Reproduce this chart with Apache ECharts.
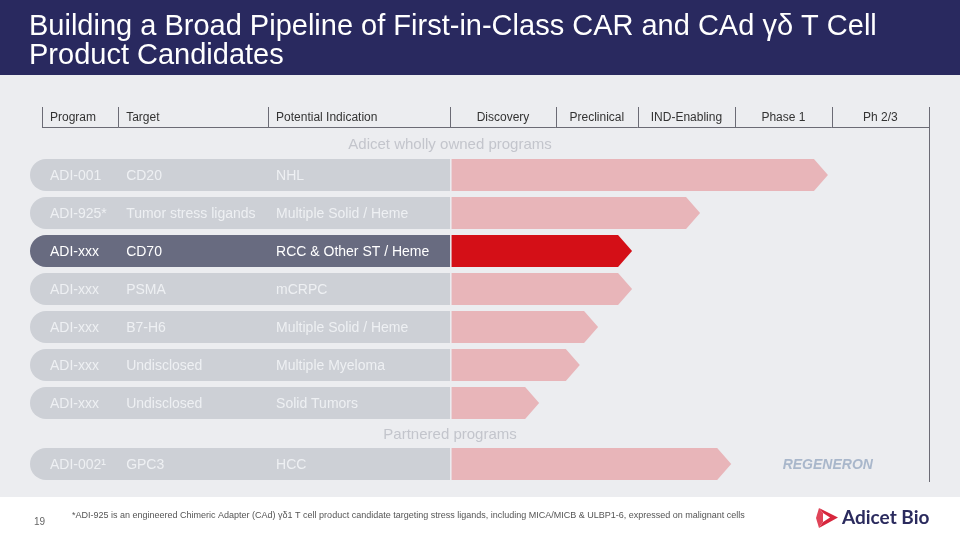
<!DOCTYPE html>
<html><head><meta charset="utf-8">
<script src="https://cdn.jsdelivr.net/npm/echarts@6/dist/echarts.min.js"></script>
<style>html,body{margin:0;padding:0;background:#ecedf0}#c{width:960px;height:540px}</style>
</head><body><div id="c"></div>
<script>
// ---- data ----
const titleText = 'Building a Broad Pipeline of First-in-Class CAR and CAd γδ T Cell\nProduct Candidates';
const headerLabels = ['Program', 'Target', 'Potential Indication', 'Discovery', 'Preclinical', 'IND-Enabling', 'Phase 1', 'Ph 2/3'];
const headerStarts = [-85.2, -69.3, -38.0, 0, 22.1, 39.2, 59.5, 79.7];
const headerEnd = 100;
const sectionLabels = ['Adicet wholly owned programs', 'Partnered programs'];
const programs = ['ADI-001', 'ADI-925*', 'ADI-xxx', 'ADI-xxx', 'ADI-xxx', 'ADI-xxx', 'ADI-xxx'];
const targets = ['CD20', 'Tumor stress ligands', 'CD70', 'PSMA', 'B7-H6', 'Undisclosed', 'Undisclosed'];
const indications = ['NHL', 'Multiple Solid / Heme', 'RCC & Other ST / Heme', 'mCRPC', 'Multiple Solid / Heme', 'Multiple Myeloma', 'Solid Tumors'];
const progress = [78.9, 52.2, 38.0, 38.0, 30.9, 27.1, 18.6];
const highlightRow = 2;
const partnerPrograms = ['ADI-002¹'];
const partnerTargets = ['GPC3'];
const partnerIndications = ['HCC'];
const partnerProgress = [58.7];
const partnerNames = ['REGENERON'];
const footnote = '*ADI-925 is an engineered Chimeric Adapter (CAd) γδ1 T cell product candidate targeting stress ligands, including MICA/MICB & ULBP1-6, expressed on malignant cells';
const pageNumber = '19';

// ---- chart ----
const FONT = '"Liberation Sans", Arial, sans-serif';
const XMIN = -87.7, XMAX = 100;
const chart = echarts.init(document.getElementById('c'), null, {renderer: 'canvas'});

function rowRenderer(progArr, tgtArr, indArr, hiIdx, partnerArr) {
  return function (params, api) {
    const i = api.value(0);
    const c0 = api.coord([XMIN, i]);
    const cz = api.coord([0, i]);
    const ce = api.coord([api.value(1), i]);
    const h = 32;
    const yTop = c0[1] - h / 2;
    const hi = i === hiIdx;
    const tip = 14;
    const txt = hi ? '#ffffff' : '#eef0f3';
    const children = [
      {type: 'rect', shape: {x: c0[0], y: yTop, width: cz[0] - c0[0], height: h, r: [h / 2, 0, 0, h / 2]},
        style: {fill: hi ? '#686b80' : '#cdd0d6'}},
      {type: 'polygon', shape: {points: [[cz[0] + 1.5, yTop], [ce[0] - tip, yTop], [ce[0], c0[1]], [ce[0] - tip, yTop + h], [cz[0] + 1.5, yTop + h]]},
        style: {fill: hi ? '#d40f17' : '#e8b5b9'}}
    ];
    const texts = [progArr[i], tgtArr[i], indArr[i]];
    for (let k = 0; k < 3; k++) {
      const p = api.coord([headerStarts[k], i]);
      children.push({type: 'text', x: p[0] + 8, y: c0[1] + 1,
        style: {text: texts[k], fill: txt, fontSize: 14, fontFamily: FONT, align: 'left', verticalAlign: 'middle'}});
    }
    if (partnerArr) {
      const b = api.coord([headerStarts[7], i]);
      children.push({type: 'text', x: b[0] - 4, y: c0[1] + 1,
        style: {text: partnerArr[i], fill: '#a9b7cb', fontSize: 14, fontWeight: 'bold', fontStyle: 'italic', fontFamily: FONT, align: 'center', verticalAlign: 'middle'}});
    }
    return {type: 'group', children};
  };
}

function headerRenderer(params, api) {
  const s = api.value(1), e = api.value(2), k = api.value(3);
  const ps = api.coord([s, 0]);
  const pe = api.coord([e, 0]);
  const band = api.size([0, 1])[1];
  const top = ps[1] - band / 2, bottom = ps[1] + band / 2;
  const lineStyle = {stroke: '#6b6b75', lineWidth: 1};
  const children = [
    {type: 'line', shape: {x1: Math.round(ps[0]) + 0.5, y1: top, x2: Math.round(ps[0]) + 0.5, y2: bottom}, style: lineStyle},
    {type: 'line', shape: {x1: ps[0], y1: Math.round(bottom) + 0.5, x2: pe[0], y2: Math.round(bottom) + 0.5}, style: lineStyle}
  ];
  const left = k < 3;
  children.push({type: 'text', x: left ? ps[0] + 8 : (ps[0] + pe[0]) / 2, y: ps[1] + 1,
    style: {text: headerLabels[k], fill: '#333333', fontSize: 12, fontFamily: FONT, align: left ? 'left' : 'center', verticalAlign: 'middle'}});
  return {type: 'group', children};
}

const xAxisBase = {type: 'value', min: XMIN, max: XMAX, show: false};
const option = {
  backgroundColor: '#ecedf0',
  animation: false,
  title: {text: titleText, left: 24, top: 7,
    textStyle: {color: '#ffffff', fontSize: 29, fontWeight: 'normal', fontFamily: FONT, lineHeight: 29}},
  grid: [
    {left: 30, right: 31, top: 107, height: 20},
    {left: 30, right: 31, top: 156, height: 266},
    {left: 30, right: 31, top: 445, height: 38}
  ],
  xAxis: [Object.assign({gridIndex: 0}, xAxisBase), Object.assign({gridIndex: 1}, xAxisBase), Object.assign({gridIndex: 2}, xAxisBase)],
  yAxis: [
    {gridIndex: 0, type: 'category', data: ['h'], show: false},
    {gridIndex: 1, type: 'category', data: programs.map((_, i) => String(i)), inverse: true, show: false},
    {gridIndex: 2, type: 'category', data: partnerPrograms.map((_, i) => String(i)), inverse: true, show: false}
  ],
  series: [
    {type: 'custom', xAxisIndex: 0, yAxisIndex: 0, renderItem: headerRenderer, encode: {x: [1, 2], y: 0},
      data: headerLabels.map((l, k) => [0, headerStarts[k], k < headerLabels.length - 1 ? headerStarts[k + 1] : headerEnd, k])},
    {type: 'custom', xAxisIndex: 1, yAxisIndex: 1, renderItem: rowRenderer(programs, targets, indications, highlightRow, null),
      encode: {x: 1, y: 0}, data: progress.map((v, i) => [i, v])},
    {type: 'custom', xAxisIndex: 2, yAxisIndex: 2, renderItem: rowRenderer(partnerPrograms, partnerTargets, partnerIndications, -1, partnerNames),
      encode: {x: 1, y: 0}, data: partnerProgress.map((v, i) => [i, v])}
  ]
};
chart.setOption(option);

// decorations positioned through the axes
const hTop = chart.convertToPixel({gridIndex: 0}, [headerEnd, 0]);
const pRow = chart.convertToPixel({gridIndex: 2}, [headerEnd, 0]);
const zeroA = chart.convertToPixel({gridIndex: 1}, [0, 0]);
const zeroB = chart.convertToPixel({gridIndex: 2}, [0, 0]);
const rx = Math.round(hTop[0]) + 0.5;
chart.setOption({
  graphic: [
    {type: 'rect', z: -1, shape: {x: 0, y: 0, width: 960, height: 75}, style: {fill: '#29295f'}},
    {type: 'rect', z: -1, shape: {x: 0, y: 497, width: 960, height: 43}, style: {fill: '#ffffff'}},
    {type: 'line', shape: {x1: rx, y1: hTop[1] - 10, x2: rx, y2: pRow[1] + 18}, style: {stroke: '#6b6b75', lineWidth: 1}},
    {type: 'text', x: zeroA[0], y: zeroA[1] - 30, style: {text: sectionLabels[0], fill: '#c3c5cc', fontSize: 15, fontFamily: FONT, align: 'center', verticalAlign: 'middle'}},
    {type: 'text', x: zeroB[0], y: zeroB[1] - 29, style: {text: sectionLabels[1], fill: '#c3c5cc', fontSize: 15, fontFamily: FONT, align: 'center', verticalAlign: 'middle'}},
    {type: 'text', x: 34, y: 522, style: {text: pageNumber, fill: '#666666', fontSize: 10, fontFamily: FONT, verticalAlign: 'middle'}},
    {type: 'text', x: 72, y: 516, style: {text: footnote, fill: '#555555', fontSize: 9, fontFamily: FONT, verticalAlign: 'middle'}},
    {type: 'polygon', shape: {points: [[819, 508], [838, 517.5], [819, 528], [823, 522], [830, 517.5], [823, 513]]}, style: {fill: '#d7263d'}},
    {type: 'polygon', shape: {points: [[819, 508], [823, 513], [823, 522], [819, 528], [816, 518]]}, style: {fill: '#e04458'}},
    {type: 'text', x: 842, y: 518, style: {text: 'Adicet Bio', fill: '#2b2b5e', fontSize: 19, fontWeight: 'bold', fontFamily: 'Lato, "Liberation Sans", sans-serif', verticalAlign: 'middle'}}
  ]
});
</script>
</body></html>
